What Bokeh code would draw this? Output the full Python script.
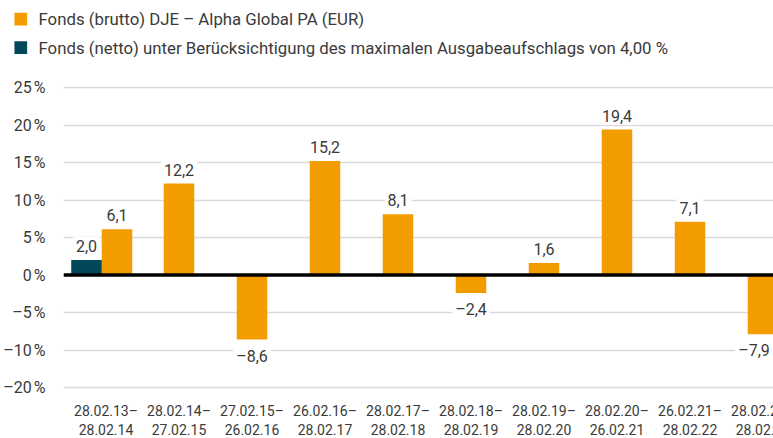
from bokeh.plotting import figure
from bokeh.layouts import column
from bokeh.models import (ColumnDataSource, Span, FixedTicker, Range1d)
from bokeh.embed import file_html
from bokeh.resources import INLINE
from bokeh.core.properties import value

# ---- data ----
periods = ["28.02.13–\n28.02.14", "28.02.14–\n27.02.15", "27.02.15–\n26.02.16",
           "26.02.16–\n28.02.17", "28.02.17–\n28.02.18", "28.02.18–\n28.02.19",
           "28.02.19–\n28.02.20", "28.02.20–\n26.02.21", "26.02.21–\n28.02.22",
           "28.02.22–\n28.02.23"]
brutto = [6.1, 12.2, -8.6, 15.2, 8.1, -2.4, 1.6, 19.4, 7.1, -7.9]
netto = [2.0, None, None, None, None, None, None, None, None, None]
ytick_values = [-15, -10, -5, 0, 5, 10, 15, 20, 25]
ytick_labels = ["–20\u202f%", "–10\u202f%", "–5\u202f%", "0\u202f%", "5\u202f%",
                "10\u202f%", "15\u202f%", "20\u202f%", "25\u202f%"]
series_names = ["Fonds (brutto) DJE – Alpha Global PA (EUR)",
                "Fonds (netto) unter Berücksichtigung des maximalen Ausgabeaufschlags von 4,00 %"]
series_colors = ["#F39C00", "#00475A"]

ORANGE, TEAL = series_colors
TXT = "#3a3a3a"
FONT = "Roboto"

def fmt(v):
    return f"{v:.1f}".replace(".", ",").replace("-", "–")

W = 0.418
idx = list(range(len(periods)))
b_x = [i + (0.151 if netto[i] is not None else 0.0) for i in idx]
n_idx = [i for i in idx if netto[i] is not None]
n_x = [i - 0.267 for i in n_idx]
n_v = [netto[i] for i in n_idx]

FW = 740                    # frame width (chart continues past the window edge)
X0 = -0.582
X1 = X0 + FW / 73.0

# ---- legend strip: pixel coordinates ----
LW, LH = 773, 57
lg = figure(width=LW, height=LH, output_backend="svg", toolbar_location=None,
            x_range=Range1d(0, LW), y_range=Range1d(LH, 0),
            x_axis_location=None, y_axis_location=None, frame_align=False,
            min_border_left=0, min_border_right=0, min_border_top=0, min_border_bottom=0)
lg.grid.visible = False
lg.outline_line_color = None
row_y = [18.7, 47.2]
lg.rect(x=[20.3, 20.3], y=row_y, width=12.7, height=12.7, color=series_colors, line_width=0)
lg.text(x=[38, 38], y=row_y, text=series_names, text_baseline="middle", text_align="left",
        text_font=value(FONT), text_font_size="16.8px", text_color=TXT)

# ---- main chart ----
p = figure(frame_width=FW, frame_height=333, output_backend="svg", toolbar_location=None,
           x_range=Range1d(X0, X1), y_range=Range1d(-15.4, 29.0), frame_align=False,
           min_border_left=60, min_border_right=0, min_border_top=0, min_border_bottom=0)
p.outline_line_color = None
p.background_fill_color = "white"

p.ygrid.ticker = FixedTicker(ticks=ytick_values)
p.ygrid.grid_line_color = "#dadada"
p.ygrid.grid_line_width = 1.5
p.xgrid.visible = False

p.vbar(x=b_x, top=brutto, width=W, color=ORANGE, line_width=0)
p.vbar(x=n_x, top=n_v, width=W, color=TEAL, line_width=0)

p.add_layout(Span(location=0, dimension="width", line_color="black", line_width=3.5))

# value labels
lab_x = b_x + n_x
lab_v = brutto + n_v
lab_xo = [(-9 if i == len(periods) - 1 else 0) for i in range(len(periods))] + [0] * len(n_x)
pos = ColumnDataSource(dict(x=[x for x, v in zip(lab_x, lab_v) if v >= 0],
                            y=[v for v in lab_v if v >= 0],
                            xo=[o for o, v in zip(lab_xo, lab_v) if v >= 0],
                            t=[fmt(v) for v in lab_v if v >= 0]))
neg = ColumnDataSource(dict(x=[x for x, v in zip(lab_x, lab_v) if v < 0],
                            y=[v for v in lab_v if v < 0],
                            xo=[o for o, v in zip(lab_xo, lab_v) if v < 0],
                            t=[fmt(v) for v in lab_v if v < 0]))
p.text(x="x", y="y", text="t", source=pos, text_align="center", text_baseline="alphabetic",
       x_offset="xo", y_offset=-14, text_font=value(FONT), text_font_size="16px", text_color=TXT,
       background_fill_color="white", padding=3)
p.text(x="x", y="y", text="t", source=neg, text_align="center", text_baseline="top",
       x_offset="xo", y_offset=4, text_font=value(FONT), text_font_size="16px", text_color=TXT,
       background_fill_color="white", padding=3)

# axes
p.yaxis.ticker = FixedTicker(ticks=ytick_values)
p.yaxis.major_label_overrides = dict(zip(ytick_values, ytick_labels))
p.yaxis.axis_line_color = None
p.yaxis.major_tick_line_color = None
p.yaxis.minor_tick_line_color = None
p.yaxis.major_label_standoff = 12
p.yaxis.major_label_text_font = FONT
p.yaxis.major_label_text_font_size = "16px"
p.yaxis.major_label_text_color = TXT

p.xaxis.ticker = FixedTicker(ticks=idx)
p.xaxis.major_label_overrides = dict(zip(idx, periods))
p.xaxis.axis_line_color = None
p.xaxis.major_tick_line_color = None
p.xaxis.minor_tick_line_color = None
p.xaxis.major_label_standoff = 6
p.xaxis.major_label_text_font = FONT
p.xaxis.major_label_text_font_size = "14px"
p.xaxis.major_label_text_line_height = 1.22
p.xaxis.major_label_text_color = TXT

open("out.html", "w").write(file_html(column(lg, p, spacing=0), INLINE))
